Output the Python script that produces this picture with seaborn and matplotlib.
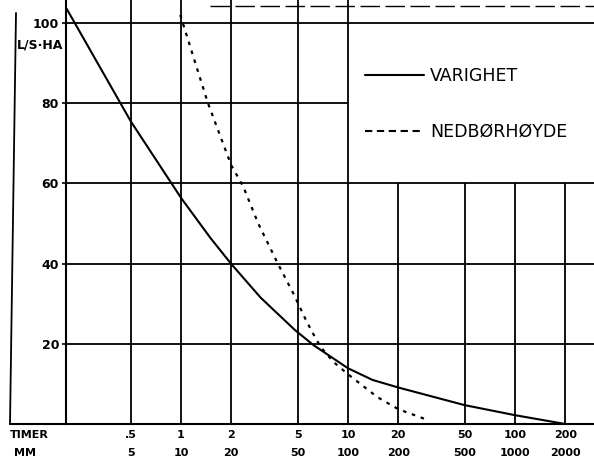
import numpy as np
import pandas as pd
import seaborn as sns
import matplotlib
matplotlib.use("Agg")
import matplotlib.pyplot as plt
from matplotlib.lines import Line2D

# ---- data ----
varighet_timer = [0.207, 0.5, 1, 1.5, 2, 3, 4.82, 6.2, 10, 14, 20, 50, 100, 200]
varighet_ls = [103.5, 75.5, 56.4, 46.4, 39.9, 31.5, 23.4, 19.7, 13.9, 11.0, 9.1, 4.7, 2.2, 0.0]
nedbor_timer = [0.99, 1.45, 2, 2.36, 2.9, 3.79, 4.7, 5.66, 6.49, 6.96, 8.17, 10, 15, 20, 30]
nedbor_ls = [102, 80, 64.5, 59.2, 50.0, 40.1, 32.6, 25.5, 20.9, 18.9, 15.5, 12.4, 6.7, 3.7, 1.0]

timer_ticks = [0.5, 1, 2, 5, 10, 20, 50, 100, 200]
timer_labels = [".5", "1", "2", "5", "10", "20", "50", "100", "200"]
mm_labels = ["5", "10", "20", "50", "100", "200", "500", "1000", "2000"]
y_ticks = [20, 40, 60, 80, 100]

W, H = 594, 461
sns.set_theme(style="white")
plt.rcParams["font.family"] = ["DejaVu Sans"]
plt.rcParams["text.color"] = "black"
plt.rcParams["xtick.color"] = "black"
plt.rcParams["ytick.color"] = "black"

fig = plt.figure(figsize=(W / 100, H / 100), dpi=100)
ax = fig.add_axes([66 / W, 37 / H, (W - 66) / W, (H - 37) / H])

xmin, xmax = 10 ** ((66 - 181) / 167), 10 ** ((W - 181) / 167)
ymax = 424 / 4.01

df_v = pd.DataFrame({"timer": varighet_timer, "ls": varighet_ls, "serie": "VARIGHET"})
df_n = pd.DataFrame({"timer": nedbor_timer, "ls": nedbor_ls, "serie": "NEDBØRHØYDE"})

# grid lines (drawn manually to reproduce the cut-out legend area)
gkw = dict(color="black", lw=1.3, zorder=1)
xlegend = 10  # vertical lines right of this stop at the 60 line
for t in timer_ticks:
    top = ymax if t <= xlegend else 60
    ax.vlines(t, 0, top, **gkw)
for yv in y_ticks:
    right = xlegend if yv == 80 else xmax
    ax.hlines(yv, xmin, right, **gkw)

sns.lineplot(data=df_v, x="timer", y="ls", ax=ax, color="black", lw=1.5,
             estimator=None, sort=False, zorder=3, legend=False)
sns.lineplot(data=df_n, x="timer", y="ls", ax=ax, color="black", lw=1.6,
             estimator=None, sort=False, zorder=3, legend=False, dashes=False)
ax.lines[-1].set_dashes([1.6, 2.6])

ax.set_xscale("log")
ax.set_xlim(xmin, xmax)
ax.set_ylim(0, ymax)
ax.set_xlabel("")
ax.set_ylabel("")

for s in ["top", "right"]:
    ax.spines[s].set_visible(False)
for s in ["left", "bottom"]:
    ax.spines[s].set_color("black")
    ax.spines[s].set_linewidth(1.5)

ax.set_yticks(y_ticks)
ax.set_yticklabels([str(v) for v in y_ticks], fontsize=9, fontweight="bold")
ax.tick_params(axis="y", length=3, width=1.2, pad=2, left=True, color="black")
ax.set_xticks(timer_ticks)
ax.set_xticklabels(timer_labels, fontsize=8, fontweight="bold")
ax.xaxis.set_minor_locator(matplotlib.ticker.NullLocator())
ax.tick_params(axis="x", length=0, pad=4)

# second row of x labels (MM)
for t, lab in zip(timer_ticks, mm_labels):
    ax.annotate(lab, xy=(t, 0), xycoords=("data", "axes fraction"),
                xytext=(0, -21), textcoords="offset points", ha="center", va="center",
                fontsize=8, fontweight="bold")

fig.text(10 / W, 1 - 435 / H, "TIMER", ha="left", va="center", fontsize=8, fontweight="bold")
fig.text(14 / W, 1 - 453 / H, "MM", ha="left", va="center", fontsize=8, fontweight="bold")
fig.text(17 / W, 1 - 45 / H, "L/S·HA", ha="left", va="center", fontsize=9, fontweight="bold")

# outer frame pieces of the scanned sheet
fig.add_artist(Line2D([16 / W, 10 / W], [1 - 13 / H, 37 / H], color="black", lw=1.3,
                      transform=fig.transFigure))
fig.add_artist(Line2D([10 / W, 66 / W], [37 / H, 37 / H], color="black", lw=1.5,
                      transform=fig.transFigure))
fig.add_artist(Line2D([210 / W, 1.0], [1 - 6 / H, 1 - 6 / H], color="black", lw=1.0,
                      ls=(0, (14, 4)), transform=fig.transFigure))

# legend
h1 = Line2D([], [], color="black", lw=1.5)
h2 = Line2D([], [], color="black", lw=1.5, dashes=[3.5, 2.2])
leg = ax.legend([h1, h2], ["VARIGHET", "NEDBØRHØYDE"], loc="upper left",
                bbox_to_anchor=(358 / W, 1 - 60 / H), bbox_transform=fig.transFigure,
                frameon=False, fontsize=12.5, handlelength=3.4, handletextpad=0.35,
                labelspacing=2.2, borderaxespad=0)
for txt in leg.get_texts():
    txt.set_color("black")

fig.savefig("out.png", dpi=100)
